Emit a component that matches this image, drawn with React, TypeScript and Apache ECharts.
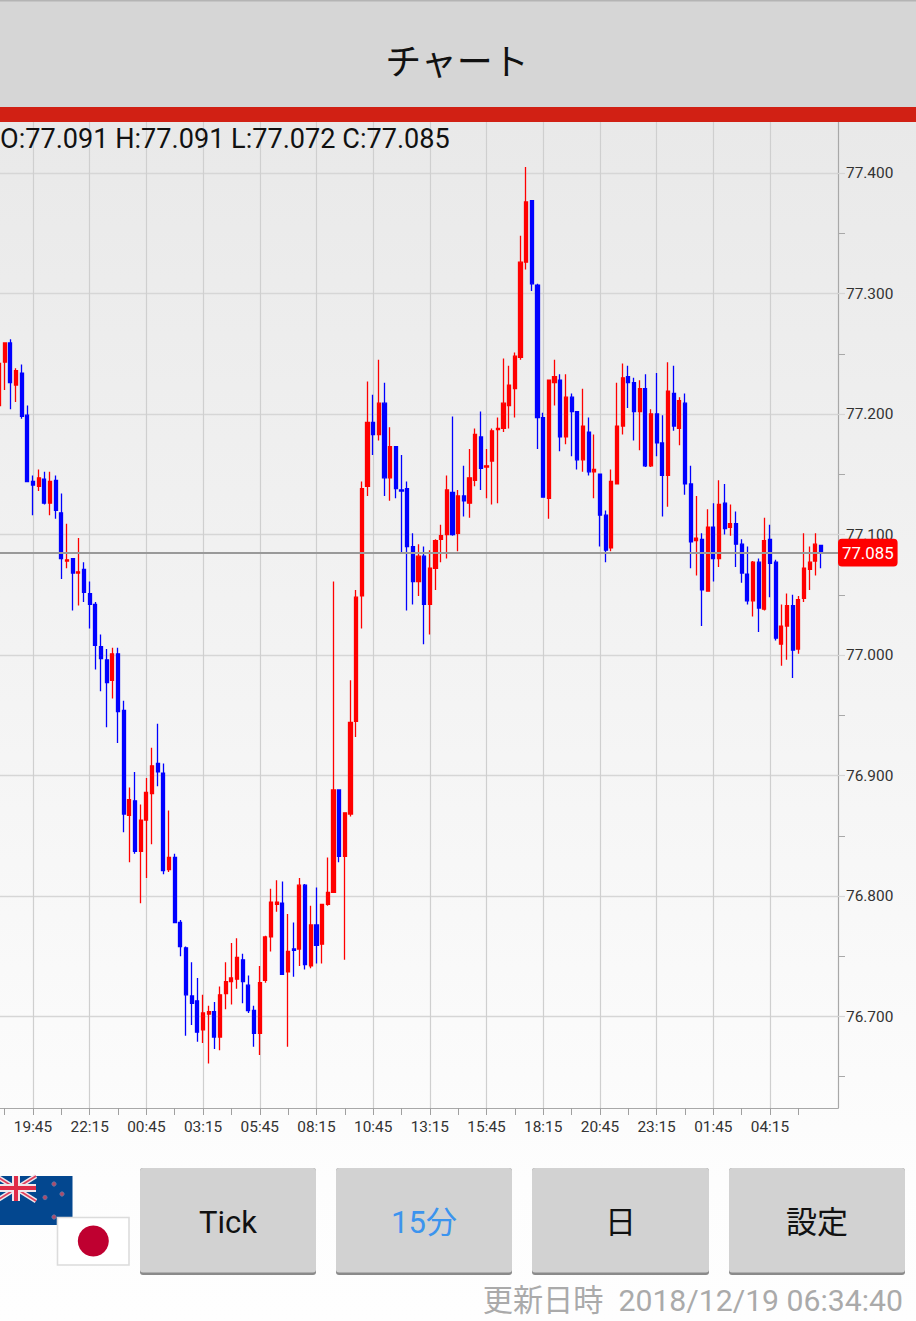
import React, { useEffect, useRef } from "react";
import * as echarts from "echarts";

// Prices are stored as thousandths above 77.000; first candle is slot -6, slot 0 is 19:45.
const opens = [
  207,243,259,224,234,199,
  144,140,146,126,145,118,78,80,68,71,
  51,42,7,-4,-21,1,-46,-133,-121,-163,
  -137,-115,-90,-98,-178,-168,-222,-243,-283,-287,
  -311,-298,-296,-317,-281,-271,-269,-253,-274,-295,
  -314,-270,-234,-207,-206,-263,-244,-244,-191,-258,
  -224,-240,-207,-197,-112,-167,-132,-55,49,140,
  193,183,209,147,173,137,138,90,61,82,
  42,72,96,100,135,101,132,126,145,181,
  156,161,187,188,207,221,247,326,377,307,
  197,130,226,228,181,214,202,162,185,152,
  150,116,89,142,190,231,226,202,221,157,
  200,176,149,217,188,209,142,95,96,53,
  106,80,126,106,109,92,67,45,77,38,
  96,77,9,24,41,5,47,71,78,91,
];
const closes = [
  242,259,226,236,198,144,
  141,147,126,144,120,80,79,68,69,52,
  42,8,-3,-23,1,-47,-132,-120,-163,-137,
  -114,-92,-97,-179,-168,-222,-242,-282,-289,-313,
  -297,-296,-317,-282,-271,-268,-251,-271,-295,-314,
  -272,-234,-205,-205,-265,-246,-245,-191,-257,-224,
  -241,-207,-197,-112,-167,-131,-56,48,138,193,
  183,209,147,173,138,136,90,61,82,42,
  72,95,99,137,100,132,128,147,183,155,
  157,186,188,209,224,248,326,376,308,197,
  131,228,231,181,214,202,162,190,152,154,
  116,87,144,190,230,226,202,221,157,200,
  176,149,219,190,211,142,94,97,54,106,
  80,125,105,109,92,68,45,77,39,95,
  76,14,24,41,4,46,72,77,92,85,
];
const lows = [
  207,220,204,210,196,144,
  116,136,125,116,113,63,72,37,41,44,
  22,-12,-30,-60,-36,-73,-147,-172,-165,-206,
  -185,-157,-109,-182,-180,-222,-250,-316,-307,-321,
  -322,-339,-327,-328,-294,-290,-277,-289,-297,-325,
  -332,-272,-246,-213,-265,-325,-267,-258,-261,-260,
  -256,-256,-208,-197,-172,-253,-134,-68,22,132,
  166,178,132,128,130,84,37,42,49,9,
  17,54,77,80,99,86,115,114,140,137,
  130,125,126,185,188,197,245,320,302,171,
  131,113,207,169,175,165,154,152,149,130,
  90,77,86,142,183,205,178,170,156,156,
  165,115,123,186,174,133,72,66,24,53,
  61,73,100,99,73,60,42,32,19,37,
  48,12,-9,-4,-19,1,44,54,66,72,
];
const highs = [
  242,259,262,238,241,207,
  149,154,152,152,149,134,109,80,97,77,
  61,44,17,5,6,6,-38,-110,-97,-124,
  -102,-77,-57,-90,-129,-165,-220,-242,-255,-268,
  -282,-291,-288,-275,-255,-239,-235,-248,-266,-291,
  -258,-233,-194,-187,-188,-215,-222,-185,-190,-208,
  -193,-207,-168,61,-112,-131,-21,54,144,227,
  216,245,226,189,173,166,144,101,92,90,
  87,96,108,149,198,137,157,171,188,202,
  171,188,197,246,240,251,348,405,377,308,
  201,228,245,233,233,217,202,221,197,183,
  150,120,154,226,242,240,230,228,233,204,
  234,199,243,240,214,217,157,132,101,121,
  126,145,142,125,119,96,90,78,80,114,
  108,79,42,51,50,49,101,90,101,91,
];

const firstSlot = -6;
const lastSlot = 142;
const gridSlots = [0, 10, 20, 30, 40, 50, 60, 70, 80, 90, 100, 110, 120, 130];
const timeLabels = ["19:45", "22:15", "00:45", "03:15", "05:45", "08:15", "10:45", "13:15", "15:45", "18:15", "20:45", "23:15", "01:45", "04:15"];
const tickSlots = [-5, 0, 5, 10, 15, 20, 25, 30, 35, 40, 45, 50, 55, 60, 65, 70, 75, 80, 85, 90, 95, 100, 105, 110, 115, 120, 125, 130, 135];
const priceLabels = [76.7, 76.8, 76.9, 77.0, 77.1, 77.2, 77.3, 77.4];
const priceHalfTicks = [76.65, 76.75, 76.85, 76.95, 77.05, 77.15, 77.25, 77.35];
const lastPrice = 77.085;
const ohlcText = "O:77.091 H:77.091 L:77.072 C:77.085";
const buttonLabels = ["Tick", "15分", "日", "設定"];
const updatedText = "更新日時  2018/12/19 06:34:40";

const toPrice = (v: number) => +(77 + v / 1000).toFixed(3);
const FONT = 'Roboto, "Noto Sans CJK JP", sans-serif';

function buildGraphics() {
  const els: any[] = [];
  const z = 10;
  els.push({ type: "rect", z, shape: { x: 0, y: 0, width: 916, height: 107 }, style: { fill: "#d6d6d6" } });
  els.push({ type: "rect", z, shape: { x: 0, y: 0, width: 916, height: 1.5 }, style: { fill: "#b4b4b4" } });
  els.push({ type: "rect", z, shape: { x: 0, y: 107, width: 916, height: 15 }, style: { fill: "#d12014" } });
  els.push({ type: "text", z, x: 457, y: 63, style: { text: "チャート", fill: "#111", font: `36px ${FONT}`, align: "center", verticalAlign: "middle" } });
  els.push({ type: "text", z, x: 0, y: 139, style: { text: ohlcText, fill: "#111", font: `27.1px ${FONT}`, align: "left", verticalAlign: "middle" } });

  // New Zealand flag (cut by the page's left edge)
  els.push({ type: "rect", z, shape: { x: 0, y: 1176, width: 72.5, height: 49 }, style: { fill: "#03478f" } });
  const white = { stroke: "#f0e8ec", lineWidth: 4.5 };
  const red = { stroke: "#e0405c", lineWidth: 1.8 };
  [white, red].forEach((s) => {
    els.push({ type: "line", z, shape: { x1: -4, y1: 1176, x2: 36, y2: 1201 }, style: s });
    els.push({ type: "line", z, shape: { x1: -4, y1: 1201, x2: 36, y2: 1176 }, style: s });
  });
  els.push({ type: "rect", z, shape: { x: 12, y: 1176, width: 8, height: 25 }, style: { fill: "#f0e8ec" } });
  els.push({ type: "rect", z, shape: { x: 0, y: 1184, width: 36, height: 8 }, style: { fill: "#f0e8ec" } });
  els.push({ type: "rect", z, shape: { x: 14, y: 1176, width: 4, height: 25 }, style: { fill: "#e02c48" } });
  els.push({ type: "rect", z, shape: { x: 0, y: 1186, width: 36, height: 4 }, style: { fill: "#e02c48" } });
  [[54, 1184], [45, 1197.5], [62, 1194], [54, 1217]].forEach(([cx, cy]) => {
    els.push({ type: "circle", z, shape: { cx, cy, r: 2.2 }, style: { fill: "#b04a68", stroke: "#5c78a8", lineWidth: 0.8 } });
  });

  // Japan flag
  els.push({ type: "rect", z, shape: { x: 57.5, y: 1217.5, width: 71.5, height: 47.5 }, style: { fill: "#fff", stroke: "#dcdcdc", lineWidth: 1.6 } });
  els.push({ type: "circle", z, shape: { cx: 93.3, cy: 1241, r: 15.5 }, style: { fill: "#bf0030" } });

  // Buttons
  const btnX = [140, 336, 532, 729];
  buttonLabels.forEach((label, i) => {
    const w = i === 2 ? 177 : 176;
    els.push({ type: "rect", z, shape: { x: btnX[i], y: 1168, width: w, height: 107, r: 3 }, style: { fill: "#8a8a8a" } });
    els.push({ type: "rect", z, shape: { x: btnX[i], y: 1168, width: w, height: 104.5, r: 3 }, style: { fill: "#d2d2d2" } });
    els.push({
      type: "text", z, x: btnX[i] + w / 2, y: 1222,
      style: { text: label, fill: i === 1 ? "#3c94ee" : "#111", font: `31px ${FONT}`, align: "center", verticalAlign: "middle" },
    });
  });
  els.push({ type: "text", z, x: 903, y: 1300, style: { text: updatedText, fill: "#aaaaaa", font: `30.2px ${FONT}`, align: "right", verticalAlign: "middle" } });
  return els;
}

export default function App() {
  const ref = useRef<HTMLDivElement>(null);
  useEffect(() => {
    document.body.style.margin = "0";
    const chart = echarts.init(ref.current!, undefined, { renderer: "svg" });
    const data = opens.map((o, i) => [firstSlot + i, toPrice(o), toPrice(closes[i]), toPrice(lows[i]), toPrice(highs[i])]);
    const xMin = -33 / 5.669;
    const yMin = 77 - 453 / 1205;
    const yMax = 77 + 533 / 1205;
    const textStyle = { color: "#333", fontFamily: FONT, fontSize: 15.4 };
    chart.setOption({
      animation: false,
      grid: { left: 0, top: 122, width: 838, height: 986, containLabel: false },
      xAxis: [
        {
          type: "value", min: xMin, max: lastSlot, position: "bottom",
          axisLine: { show: true, onZero: false, lineStyle: { color: "#a8a8a8", width: 1.2 } },
          axisTick: { show: false, customValues: gridSlots },
          axisLabel: {
            ...textStyle, margin: 11, customValues: gridSlots,
            formatter: (v: number) => timeLabels[gridSlots.indexOf(Math.round(v))] ?? "",
          },
          splitLine: { show: true, lineStyle: { color: "#cfcfcf", width: 1.2 } },
        },
        {
          type: "value", min: xMin, max: lastSlot, position: "bottom", offset: 0,
          axisLine: { show: false, onZero: false },
          axisTick: { show: true, length: 7, customValues: tickSlots, lineStyle: { color: "#a0a0a0", width: 1 } },
          axisLabel: { show: false },
          splitLine: { show: false },
        },
      ],
      yAxis: [
        {
          type: "value", min: yMin, max: yMax, position: "right",
          axisLine: { show: true, onZero: false, lineStyle: { color: "#a8a8a8", width: 1.2 } },
          axisTick: { show: true, length: 7, customValues: priceLabels, lineStyle: { color: "#d6d6d6", width: 1.2 } },
          axisLabel: { ...textStyle, margin: 8, padding: [2, 0, 0, 0], customValues: priceLabels, formatter: (v: number) => v.toFixed(3) },
          splitLine: { show: true, lineStyle: { color: "#d6d6d6", width: 1.4 } },
        },
        {
          type: "value", min: yMin, max: yMax, position: "right", offset: 0,
          axisLine: { show: false, onZero: false },
          axisTick: { show: true, length: 7, customValues: priceHalfTicks, lineStyle: { color: "#a8a8a8", width: 1 } },
          axisLabel: { show: false },
          splitLine: { show: false },
        },
      ],
      series: [
        {
          type: "candlestick",
          xAxisIndex: 0,
          yAxisIndex: 0,
          data,
          encode: { x: 0, y: [1, 2, 3, 4] },
          barWidth: 3.6,
          itemStyle: { color: "#ff0000", color0: "#0000ff", borderColor: "#ff0000", borderColor0: "#0000ff", borderWidth: 1.3 },
          markLine: {
            silent: true,
            symbol: "none",
            animation: false,
            precision: 3,
            lineStyle: { color: "#999999", width: 2, type: "solid" },
            label: {
              show: true, position: "end", distance: 0, formatter: () => lastPrice.toFixed(3),
              color: "#fff", backgroundColor: "#ff0000", borderRadius: 4, padding: [6, 4, 5, 4],
              fontFamily: FONT, fontSize: 16.8,
            },
            data: [{ yAxis: lastPrice }],
          },
        },
      ],
      graphic: { elements: buildGraphics() },
    });
    return () => chart.dispose();
  }, []);
  return (
    <div
      ref={ref}
      style={{ width: 916, height: 1321, background: "linear-gradient(180deg, #e9e9e9 0px, #e9e9e9 122px, #fdfdfd 1180px, #fefefe 1321px)" }}
    />
  );
}
